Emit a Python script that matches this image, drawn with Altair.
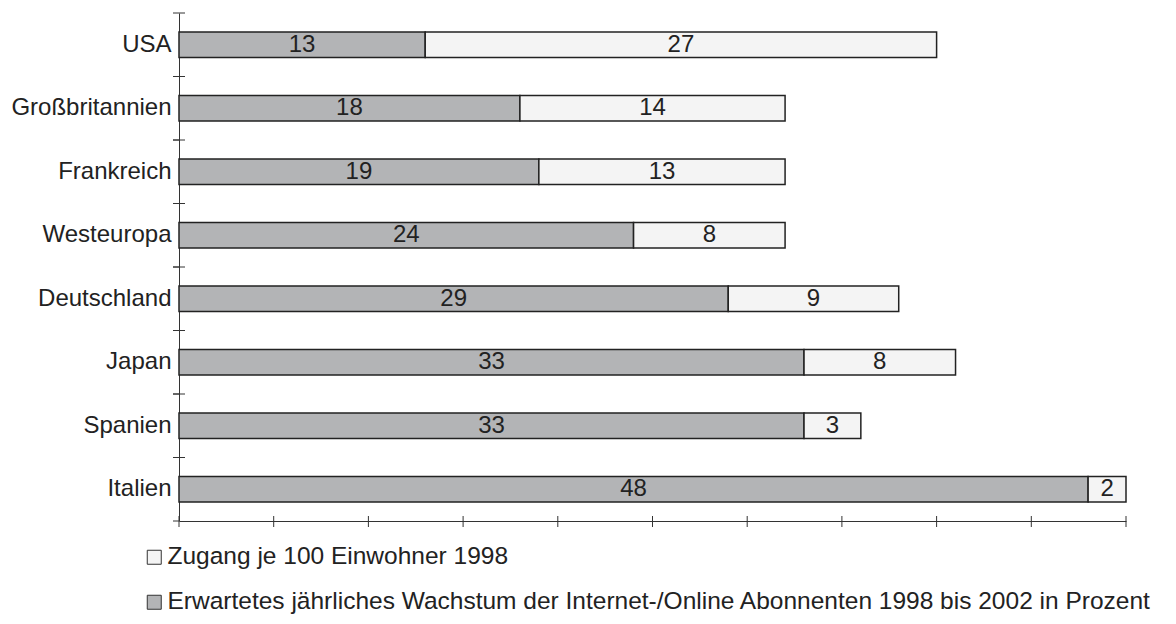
import altair as alt
import pandas as pd

countries = ["USA", "Großbritannien", "Frankreich", "Westeuropa", "Deutschland", "Japan", "Spanien", "Italien"]
growth = [13, 18, 19, 24, 29, 33, 33, 48]
access = [27, 14, 13, 8, 9, 8, 3, 2]
series_names = [
    "Erwartetes jährliches Wachstum der Internet-/Online Abonnenten 1998 bis 2002 in Prozent",
    "Zugang je 100 Einwohner 1998",
]
x_ticks = [0, 5, 10, 15, 20, 25, 30, 35, 40, 45, 50]

rows = []
for c, g, a in zip(countries, growth, access):
    rows.append({"country": c, "series": series_names[0], "value": g, "order": 0})
    rows.append({"country": c, "series": series_names[1], "value": a, "order": 1})
df = pd.DataFrame(rows)

W, H = 947, 508
FONT = "Liberation Sans"

xscale = alt.Scale(domain=[0, 50], nice=False, zero=True)
yscale = alt.Scale(paddingInner=0, paddingOuter=0)

base = alt.Chart(df).transform_stack(
    stack="value", as_=["x0", "x1"], groupby=["country"], sort=[alt.SortField("order")]
).transform_calculate(mid="(datum.x0 + datum.x1) / 2")

bars = base.mark_bar(height={"band": 0.4}, stroke="#222", strokeWidth=1.5).encode(
    y=alt.Y("country:N", sort=countries, scale=yscale,
            axis=alt.Axis(title=None, ticks=False, labelFontSize=24, labelColor="#222",
                          labelFont=FONT, domainColor="#333", domainWidth=1, labelPadding=8,
                          labelLimit=0)),
    x=alt.X("x0:Q", scale=xscale,
            axis=alt.Axis(title=None, labels=False, ticks=False, grid=False,
                          domainColor="#333", domainWidth=1)),
    x2="x1:Q",
    color=alt.Color("series:N",
                    scale=alt.Scale(domain=[series_names[1], series_names[0]],
                                    range=["#f4f4f4", "#b3b4b6"]),
                    legend=alt.Legend(orient="none", legendX=-37, legendY=H + 24,
                                      direction="vertical", title=None,
                                      symbolType="square", symbolSize=196,
                                      symbolStrokeColor="#333", symbolStrokeWidth=1,
                                      labelFontSize=24.5, labelFont=FONT, labelColor="#222",
                                      rowPadding=20, labelLimit=0, labelOffset=1)),
)

labels = base.mark_text(fontSize=24, font=FONT, color="#222").encode(
    y=alt.Y("country:N", sort=countries, scale=yscale),
    x=alt.X("mid:Q", scale=xscale),
    text="value:Q",
)

cdf = pd.DataFrame({"country": countries})
ytick0 = alt.Chart(cdf).mark_rule(color="#333", strokeWidth=1).encode(
    y=alt.Y("country:N", sort=countries, scale=yscale, bandPosition=0),
    x=alt.value(-6), x2=alt.value(6),
)
ytick1 = alt.Chart(cdf).mark_rule(color="#333", strokeWidth=1).encode(
    y=alt.Y("country:N", sort=countries, scale=yscale, bandPosition=1),
    x=alt.value(-6), x2=alt.value(0),
)
xticks = alt.Chart(pd.DataFrame({"t": x_ticks})).mark_rule(color="#333", strokeWidth=1).encode(
    x=alt.X("t:Q", scale=xscale),
    y=alt.value(H - 5), y2=alt.value(H + 6),
)

chart = alt.layer(bars, labels, ytick0, ytick1, xticks).properties(
    width=W, height=H, padding={"left": 2, "top": 4, "right": 0, "bottom": 2}
).configure(font=FONT).configure_view(stroke=None)

chart.save("out.html", embed_options={"renderer": "svg", "actions": False})
